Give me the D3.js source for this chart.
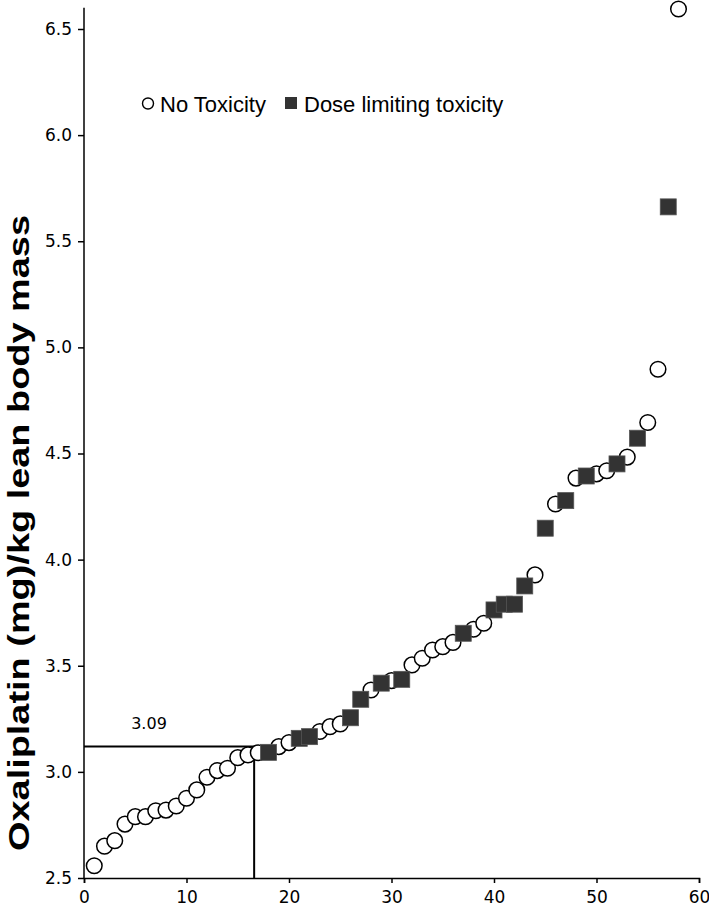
<!DOCTYPE html>
<html>
<head>
<meta charset="utf-8">
<script src="https://cdn.jsdelivr.net/npm/d3@7"></script>
<style>
  html, body { margin: 0; padding: 0; background: #fff; }
  svg { display: block; }
</style>
</head>
<body>
<svg id="chart" width="709" height="906"></svg>
<script>
// ---- data ----
const patientRank = d3.range(1, 59);
const oxaliplatinDose = [
  2.558, 2.65, 2.676, 2.754, 2.789, 2.789, 2.817, 2.82, 2.839, 2.876,
  2.915, 2.975, 3.006, 3.017, 3.067, 3.08, 3.09, 3.092, 3.119, 3.138,
  3.158, 3.166, 3.19, 3.213, 3.226, 3.255, 3.342, 3.386, 3.418, 3.43,
  3.436, 3.504, 3.535, 3.574, 3.59, 3.61, 3.653, 3.672, 3.70, 3.763,
  3.79, 3.79, 3.876, 3.928, 4.148, 4.262, 4.278, 4.384, 4.394, 4.404,
  4.419, 4.451, 4.483, 4.572, 4.646, 4.897, 5.662, 6.594
];
// 1 = dose limiting toxicity, 0 = no toxicity
const dltFlag = [
  0,0,0,0,0,0,0,0,0,0,
  0,0,0,0,0,0,0,1,0,0,
  1,1,0,0,0,1,1,0,1,0,
  1,0,0,0,0,0,1,0,0,1,
  1,1,1,0,1,0,1,0,1,0,
  0,1,0,1,0,0,1,0
];
const xTicks = [0, 10, 20, 30, 40, 50, 60];
const yTicks = [2.5, 3.0, 3.5, 4.0, 4.5, 5.0, 5.5, 6.0, 6.5];
const thresholdX = 16.6;
const thresholdY = 3.12;
const thresholdLabel = "3.09";
const legendLabels = ["No Toxicity", "Dose limiting toxicity"];
const yTitle = "Oxaliplatin (mg)/kg lean body mass";

// ---- scales ----
const svg = d3.select("#chart");
const x = d3.scaleLinear().domain([0, 60]).range([84, 699]);
const y = d3.scaleLinear().domain([2.5, 6.5]).range([878, 29]);

const tickFont = "'DejaVu Sans', sans-serif";

// x axis
const xAxis = svg.append("g")
  .attr("transform", `translate(0,${y(2.5)})`)
  .call(d3.axisBottom(x).tickValues(xTicks).tickFormat(d3.format("d")).tickSizeOuter(0).tickSize(5).tickPadding(8));
xAxis.select(".domain").attr("stroke", "#000").attr("stroke-width", 1.5);
xAxis.selectAll(".tick line").attr("stroke", "#000").attr("stroke-width", 1.5);
xAxis.selectAll("text").attr("font-family", tickFont).attr("font-size", 17).attr("fill", "#000");

// y axis
const yAxis = svg.append("g")
  .attr("transform", `translate(${x(0)},0)`)
  .call(d3.axisLeft(y).tickValues(yTicks).tickFormat(d3.format(".1f")).tickSizeOuter(0).tickSize(6).tickPadding(6));
yAxis.select(".domain").remove();
yAxis.append("line")
  .attr("x1", 0).attr("x2", 0)
  .attr("y1", y(6.6)).attr("y2", y(2.5))
  .attr("stroke", "#000").attr("stroke-width", 1.5);
yAxis.selectAll(".tick line").attr("stroke", "#000").attr("stroke-width", 1.5);
yAxis.selectAll("text").attr("font-family", tickFont).attr("font-size", 17).attr("fill", "#000");

// y title
svg.append("text")
  .attr("transform", `translate(29,${533}) rotate(-90)`)
  .attr("text-anchor", "middle")
  .attr("font-family", "'Liberation Sans', Arial, sans-serif")
  .attr("font-weight", "bold")
  .attr("font-size", 30)
  .attr("textLength", 636)
  .attr("lengthAdjust", "spacingAndGlyphs")
  .text(yTitle);

// threshold lines
svg.append("path")
  .attr("d", `M${x(0)},${y(thresholdY)}H${x(thresholdX)}V${y(2.5)}`)
  .attr("fill", "none").attr("stroke", "#000").attr("stroke-width", 2);
svg.append("text")
  .attr("x", 149).attr("y", 729)
  .attr("text-anchor", "middle")
  .attr("font-family", tickFont).attr("font-size", 16)
  .text(thresholdLabel);

// points
const pts = patientRank.map((r, i) => ({ r, v: oxaliplatinDose[i], dlt: dltFlag[i] }));
svg.append("g").selectAll("circle")
  .data(pts.filter(d => !d.dlt))
  .join("circle")
  .attr("cx", d => x(d.r)).attr("cy", d => y(d.v))
  .attr("r", 7.8)
  .attr("fill", "#fff").attr("stroke", "#000").attr("stroke-width", 1.5);
const sq = 16;
svg.append("g").selectAll("rect")
  .data(pts.filter(d => d.dlt))
  .join("rect")
  .attr("x", d => x(d.r) - sq / 2).attr("y", d => y(d.v) - sq / 2)
  .attr("width", sq).attr("height", sq)
  .attr("fill", "#333").attr("stroke", "#555").attr("stroke-width", 0.8);

// legend
const lg = svg.append("g").attr("font-family", "'Liberation Sans', Arial, sans-serif").attr("font-size", 22);
lg.append("circle").attr("cx", 148).attr("cy", 103.5).attr("r", 5.5)
  .attr("fill", "#fff").attr("stroke", "#000").attr("stroke-width", 1.4);
lg.append("text").attr("x", 160).attr("y", 111.5).text(legendLabels[0]);
lg.append("rect").attr("x", 285).attr("y", 97).attr("width", 12).attr("height", 12).attr("fill", "#333");
lg.append("text").attr("x", 304).attr("y", 111.5).text(legendLabels[1]);
</script>
</body>
</html>
